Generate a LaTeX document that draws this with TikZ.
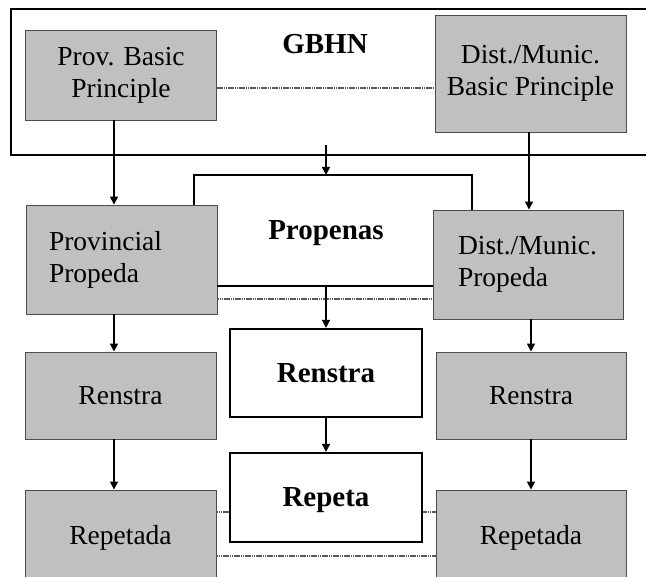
\documentclass[tikz,border=0pt]{standalone}
\usepackage{fontspec}
\setmainfont{Liberation Serif}
\usetikzlibrary{arrows.meta}
\definecolor{graybox}{HTML}{C0C0C0}
\newcommand\diatxt{\fontsize{27.5}{32}\selectfont}
\newcommand\diatxtb{\fontsize{29}{32}\selectfont\bfseries}
\begin{document}
\begin{tikzpicture}[x=1pt,y=-1pt,
  gbox/.style={draw=black!70, line width=0.9pt, fill=graybox, inner sep=0pt, align=center, font=\diatxt},
  lbox/.style={draw=black!70, line width=0.9pt, fill=graybox, inner ysep=0pt, align=left, font=\diatxt},
  bbox/.style={draw=black, line width=2.2pt, fill=white, inner sep=0pt, align=center, font=\diatxtb},
  arr/.style={-{Triangle[width=8pt,length=8pt]}, line width=1.6pt},
  conn/.style={line width=2pt},
  dots/.style={draw=black!65, line width=1.4pt, dash pattern=on 1.6pt off 0.6pt},
]
\useasboundingbox (0,0) rectangle (646,577);
\fill[white] (0,0) rectangle (646,577);

% named helper coordinates
\coordinate (xl) at (114,0);
\coordinate (xm) at (326,0);
\coordinate (xr) at (531,0);
\coordinate (xd) at (529,0);
\coordinate (pa) at (194,0);
\coordinate (pb) at (472,0);
\coordinate (ptop) at (0,175);
\coordinate (pbot) at (0,286);
\coordinate (pdot) at (0,299);
\coordinate (rdot) at (0,512);
\coordinate (bdot) at (0,556);
\coordinate (gdot) at (0,88);
\coordinate (gstart) at (326,145);

% GBHN frame
\node[draw=black, line width=2.2pt, anchor=north west, minimum width=660pt, minimum height=146pt, inner sep=0pt] (gbhn) at (10,8) {};
\node[font=\diatxtb] (gbhnlbl) at (325,44) {GBHN};

% top row
\node[gbox, minimum width=191pt, minimum height=90pt] (pbp) at (121,75) {Prov. Basic\\Principle};
\node[gbox, minimum width=191pt, minimum height=117pt] (dbp) at (530.5,73.5) {Dist./Munic.\\Basic Principle};

% propeda row
\node[lbox, text width=145pt, inner xsep=23pt, minimum height=109pt] (pp) at (121.5,259.5) {Provincial\\Propeda};
\node[lbox, text width=140pt, inner xsep=25pt, minimum height=109pt] (dp) at (528,264.5) {Dist./Munic.\\Propeda};
\node[font=\diatxtb, anchor=base] (propl) at (326,240) {Propenas};

% renstra row
\node[gbox, minimum width=191pt, minimum height=87pt] (rl) at (120.5,395.5) {Renstra};
\node[gbox, minimum width=190pt, minimum height=87pt] (rr) at (531,395.5) {Renstra};
\node[bbox, minimum width=192pt, minimum height=88pt] (rc) at (326,373) {Renstra};

% repeta row
\node[bbox, text depth=0pt, minimum width=192pt, minimum height=89pt] (rp) at (326,497.5) {Repeta};
\node[gbox, minimum width=191pt, minimum height=96pt] (tl) at (120.5,538) {Repetada};
\node[gbox, minimum width=190pt, minimum height=96pt] (tr) at (531,538) {Repetada};

% connectors
\draw[dots] (pbp.east |- gdot) -- (dbp.west |- gdot);
\draw[arr] (pbp.south -| xl) -- (pp.north -| xl);
\draw[arr] (dbp.south -| xd) -- (dp.north -| xd);
\draw[arr] (gstart) -- (gstart |- ptop);
\draw[conn] (pp.north -| pa) -- (pa |- ptop) -- (pb |- ptop) -- (dp.north -| pb);
\draw[conn] (pp.east |- pbot) -- (dp.west |- pbot);
\draw[dots] (pp.east |- pdot) -- (dp.west |- pdot);
\draw[arr] (xm |- pbot) -- (rc.north);
\draw[arr] (pp.south -| xl) -- (rl.north -| xl);
\draw[arr] (dp.south -| xr) -- (rr.north -| xr);
\draw[arr] (rc.south) -- (rp.north);
\draw[arr] (rl.south -| xl) -- (tl.north -| xl);
\draw[arr] (rr.south -| xr) -- (tr.north -| xr);
\draw[dots] (rp.west |- rdot) -- (tl.east |- rdot);
\draw[dots] (rp.east |- rdot) -- (tr.west |- rdot);
\draw[dots] (tl.east |- bdot) -- (tr.west |- bdot);
\end{tikzpicture}
\end{document}
